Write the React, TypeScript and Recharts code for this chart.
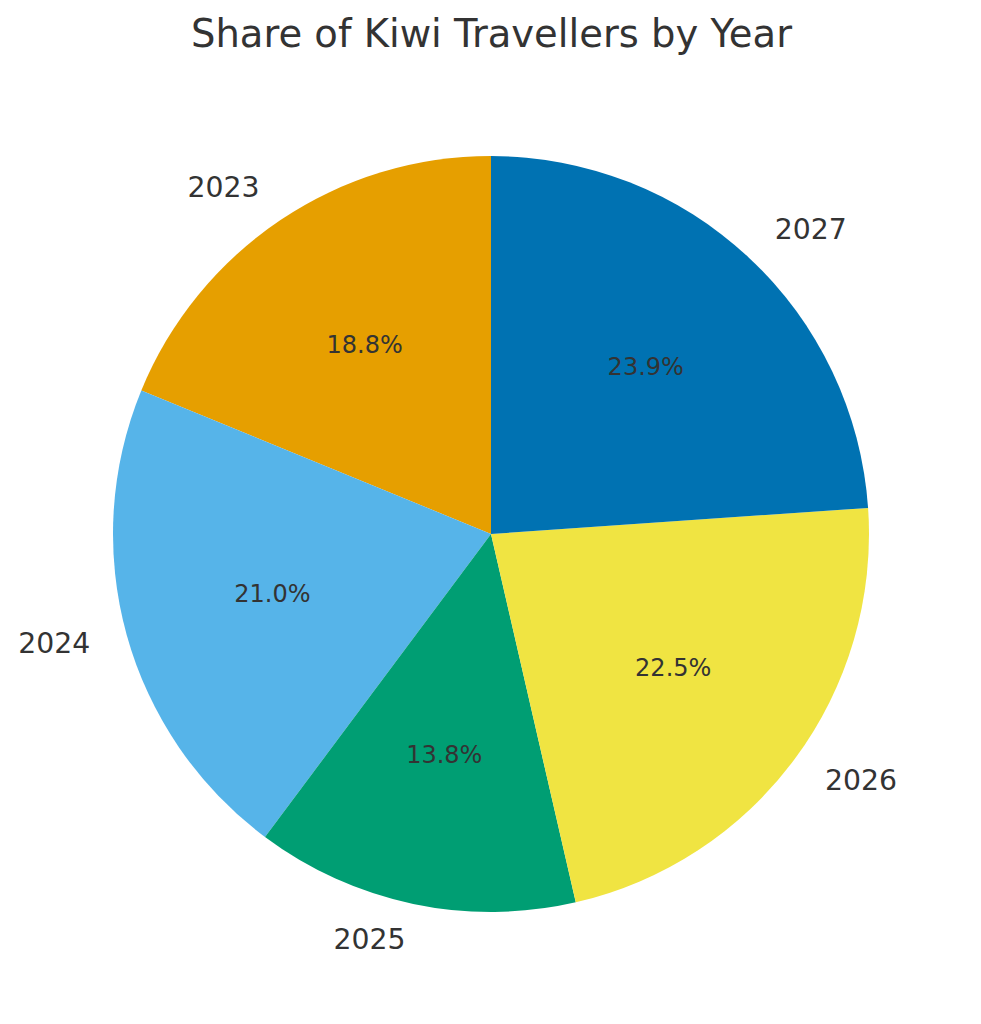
import React from 'react';
import { PieChart, Pie, Cell } from 'recharts';

const years = ['2023', '2024', '2025', '2026', '2027'];
const shares = [18.8, 21.0, 13.8, 22.5, 23.9];
const colors = ['#E69F00', '#56B4E9', '#009E73', '#F0E442', '#0072B2'];

const data = years.map((y, i) => ({ name: y, value: shares[i] }));

const RADIAN = Math.PI / 180;
const FONT = '"DejaVu Sans", sans-serif';
const TEXT = '#333333';

const renderLabel = (props: any) => {
  const { cx, cy, midAngle, outerRadius, name, percent } = props;
  const c = Math.cos(midAngle * RADIAN);
  const s = Math.sin(midAngle * RADIAN);
  const ox = cx + outerRadius * 1.1 * c;
  const oy = cy - outerRadius * 1.1 * s;
  const ix = cx + outerRadius * 0.6 * c;
  const iy = cy - outerRadius * 0.6 * s;
  return (
    <g>
      <text
        x={ox}
        y={oy + 8.5}
        textAnchor={c >= 0 ? 'start' : 'end'}
        fill={TEXT}
        fontSize={28.3}
        fontFamily={FONT}
      >
        {name}
      </text>
      <text
        x={ix}
        y={iy + 7}
        textAnchor="middle"
        fill={TEXT}
        fontSize={24}
        fontFamily={FONT}
      >
        {(percent * 100).toFixed(1) + '%'}
      </text>
    </g>
  );
};

export default function App() {
  return (
    <div style={{ position: 'absolute', left: 0, top: 0, width: 981, height: 1024, background: '#fff' }}>
      <div
        style={{
          position: 'absolute',
          left: 0,
          top: 15,
          width: 983,
          textAlign: 'center',
          fontFamily: FONT,
          fontSize: 38.5,
          lineHeight: '38px',
          color: TEXT,
          whiteSpace: 'nowrap',
        }}
      >
        Share of Kiwi Travellers by Year
      </div>
      <PieChart width={981} height={1024} margin={{ top: 0, right: 0, bottom: 0, left: 0 }}>
        <Pie
          data={data}
          dataKey="value"
          nameKey="name"
          cx={491}
          cy={534}
          outerRadius={378}
          startAngle={90}
          endAngle={450}
          stroke="none"
          label={renderLabel}
          labelLine={false}
          isAnimationActive={false}
        >
          {data.map((d, i) => (
            <Cell key={d.name} fill={colors[i]} />
          ))}
        </Pie>
      </PieChart>
    </div>
  );
}
